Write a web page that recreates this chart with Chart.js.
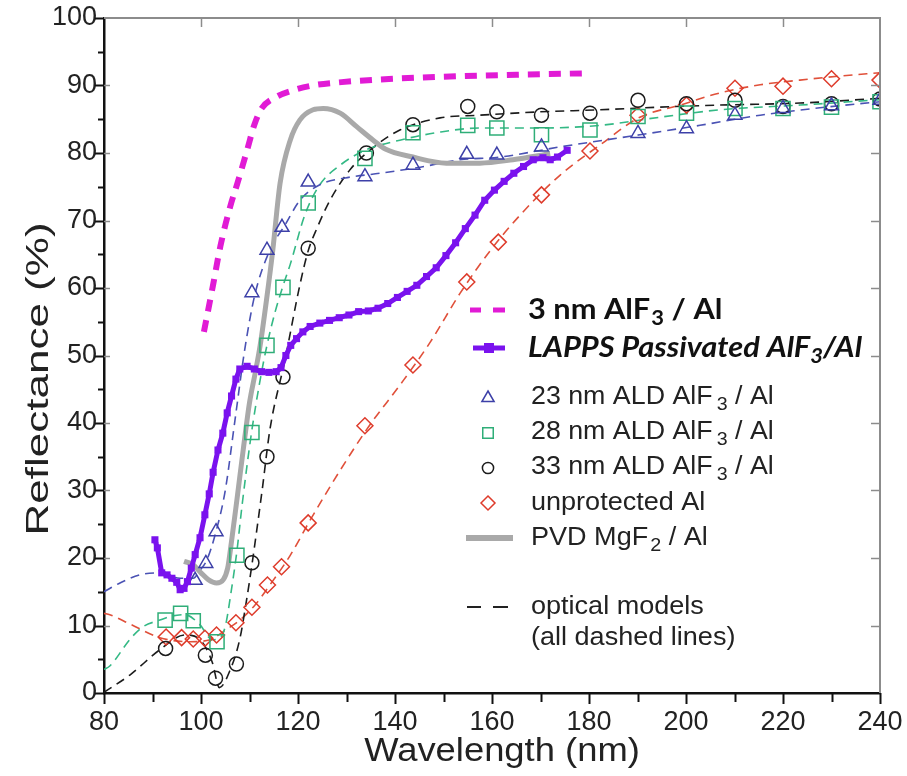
<!DOCTYPE html>
<html>
<head>
<meta charset="utf-8">
<script src="https://cdn.jsdelivr.net/npm/chart.js@4.4.1/dist/chart.umd.min.js"></script>
<style>
  html, body { margin: 0; padding: 0; background: #fff; }
  #wrap { position: relative; width: 907px; height: 776px; }
</style>
</head>
<body>
<div id="wrap"><canvas id="chart"></canvas></div>
<script>
/* ── Data ───────────────────────────────────────────────────────────────── */

// 3 nm AlF3 / Al (magenta, dashed)
const alf3X = [100.6, 102.5, 104, 106, 107.5, 109.5, 111, 112.5, 115.5, 119, 123, 129, 137, 150, 165, 179];
const alf3Y = [53.5, 60.5, 66.2, 72, 75.5, 80.4, 84.2, 86.6, 88.3, 89.3, 90.0, 90.5, 90.9, 91.3, 91.6, 91.8];

// LAPPS passivated AlF3 / Al (purple)
const lappsX = [90.5, 91.0, 91.9, 93.0, 94.0, 95.0, 95.7, 96.5, 97.2, 98.0, 98.8, 99.8, 100.8, 101.7, 102.5,
  103.5, 104.5, 105.4, 106.3, 107.2, 108.0, 109.5, 111.0, 112.5, 114.0, 115.5, 116.5, 117.5, 118.5, 119.7,
  121.0, 122.5, 124.5, 126.5, 128.5, 130.5, 132.5, 134.5, 136.5, 138.5, 140.5, 142.5, 144.5, 146.5, 148.5,
  150.5, 152.5, 154.5, 156.5, 158.5, 160.5, 162.5, 164.5, 166.5, 168.5, 170.5, 172.0, 173.5, 175.5];
const lappsY = [22.7, 21.5, 17.8, 17.5, 17.0, 16.4, 15.3, 15.5, 16.5, 18.5, 20.5, 23.0, 26.4, 29.5, 32.7,
  36.0, 38.5, 41.5, 44.0, 46.5, 48.0, 48.4, 48.0, 47.6, 47.5, 47.6, 48.2, 50.0, 51.5, 52.5,
  53.5, 54.3, 54.8, 55.2, 55.6, 56.0, 56.5, 56.6, 57.0, 57.7, 58.6, 59.5, 60.4, 61.7, 63.0,
  64.8, 66.7, 68.8, 70.8, 73.0, 74.5, 75.8, 77.0, 78.0, 79.0, 79.3, 79.0, 79.4, 80.4];

// PVD MgF2 / Al (gray)
const pvdX = [96.5, 98.4, 100.0, 101.5, 103.2, 104.6, 105.5, 106.3, 107.4, 108.7, 110.0, 111.2, 112.2,
  113.5, 114.8, 116.3, 118.4, 120.4, 123.1, 125.2, 128.7, 132.1, 135.5, 138.0, 143.7, 150.6, 157.5, 164.3, 172.0];
const pvdY = [19.5, 19.0, 17.8, 16.8, 16.3, 16.8, 18.5, 22.5, 28.6, 36.0, 43.0, 47.5, 51.5,
  58.2, 65.6, 75.5, 81.9, 84.9, 86.4, 86.6, 85.9, 83.9, 81.9, 80.6, 79.4, 78.5, 78.5, 79.0, 79.9];

// measured points
const ald23X = [98.8, 101, 103.1, 110.5, 113.6, 116.7, 122.1, 133.8, 143.7, 154.8, 161, 170.2, 190.1, 200.1, 210.1, 220, 230, 240];
const ald23Y = [16.7, 19.2, 23.9, 59.3, 65.6, 69.0, 75.7, 76.5, 78.2, 79.8, 79.7, 80.9, 82.9, 83.6, 85.6, 86.6, 87.0, 87.8];

const ald28X = [92.6, 95.8, 98.4, 103.3, 107.4, 110.5, 113.6, 116.9, 122.1, 133.8, 143.7, 155, 161, 170.2, 180.2, 190.1, 200.1, 210.1, 220, 230, 240];
const ald28Y = [10.8, 11.8, 10.7, 7.6, 20.4, 38.6, 51.5, 60.1, 72.6, 79.2, 83.0, 84.1, 83.7, 82.7, 83.4, 85.4, 85.9, 86.6, 86.6, 86.8, 87.6];

const ald33X = [92.7, 100.9, 103.0, 107.3, 110.5, 113.6, 116.9, 122.1, 134.1, 143.7, 155, 161, 170.2, 180.2, 190.1, 200.1, 210.1, 220, 230, 240];
const ald33Y = [6.6, 5.6, 2.2, 4.3, 19.3, 35.0, 46.8, 65.9, 80.0, 84.2, 86.9, 86.1, 85.6, 85.9, 87.8, 87.3, 87.8, 86.9, 87.3, 88.0];

const bareX = [92.8, 96, 98.4, 100.8, 103.2, 107.2, 110.5, 113.7, 116.6, 122.1, 133.8, 143.7, 154.8, 161.3, 170.2, 180.2, 190.1, 200.1, 210.1, 220, 230, 240];
const bareY = [8.3, 8.2, 8.0, 8.1, 8.6, 10.4, 12.7, 16.0, 18.7, 25.2, 39.6, 48.6, 60.9, 66.8, 73.8, 80.3, 85.6, 87.1, 89.6, 89.9, 91.0, 90.8];

// optical models (dashed)
const model23X = [80, 83.3, 87.4, 91.5, 95.7, 98.4, 99.8, 101.2, 102.9, 105, 107, 109, 111.1, 114.2, 117.3, 120.4, 124.5, 129.7, 136.9, 145.2, 153.4, 161.6, 174, 190.5, 202.9, 215.3, 227.6, 240];
const model23Y = [15, 16.3, 17.5, 17.8, 17.0, 17.0, 18.2, 19.7, 23.4, 30, 40.4, 50.8, 59, 65.6, 69.3, 73, 75.3, 76.3, 77, 77.9, 79, 79.4, 80.9, 82.7, 84.1, 85.6, 86.7, 87.6];

const model28X = [80, 81.2, 85.4, 88, 91.5, 94, 96.7, 99.8, 102.3, 104.3, 105.2, 106, 107.4, 108.5, 110.4, 112.2, 113.6, 115.3, 117, 118.4, 121.4, 124.5, 128.7, 133.8, 141, 149.3, 157.5, 169.9, 182.3, 194.6, 207, 223.5, 240];
const model28Y = [3.5, 4.0, 8.0, 9.8, 10.8, 11.4, 11.6, 10.1, 7.9, 8.5, 10.5, 14, 21, 28, 38.5, 46.4, 51.5, 56.5, 60.5, 63.5, 70.8, 75.3, 78.2, 80.4, 81.9, 83.1, 83.7, 83.7, 84.1, 85.3, 86.4, 87.1, 87.9];

const model33X = [80, 85.4, 91.5, 96.7, 99.8, 102.3, 103.8, 106.0, 108.0, 109.4, 110.5, 112.6, 114.2, 117.3, 120.4, 122.1, 124, 126.6, 130.7, 134.8, 141, 149.3, 157.5, 169.9, 182.3, 194.6, 207, 223.5, 240];
const model33Y = [0.1, 2.7, 6.4, 8.6, 7.9, 4.6, 0.8, 3.4, 8.0, 13.8, 19.0, 30, 39.0, 49.3, 60.5, 65.5, 69, 73, 77.5, 80.4, 83.4, 85.2, 85.6, 86.1, 86.4, 86.8, 87.1, 87.4, 88.1];

const modelBareX = [80, 81.2, 85.4, 91.5, 97.7, 101.9, 105, 108, 111.1, 114.2, 118.4, 122.5, 128.7, 134.8, 141, 147.2, 153.4, 159.6, 165.8, 174, 182.3, 190.5, 198.8, 207, 215.3, 223.5, 231.8, 240];
const modelBareY = [11.8, 11.6, 10.2, 8.2, 7.6, 7.9, 9.3, 10.8, 13, 16, 20.4, 25.6, 33, 39.7, 45.6, 51.9, 59.2, 65.5, 70.8, 76.7, 81.2, 85.3, 87.1, 88.9, 90.1, 90.8, 91.4, 91.9];

/* ── Colours ────────────────────────────────────────────────────────────── */
const COLORS = {
  magenta: '#e11bd5',
  purple : '#7a12ee',
  gray   : '#a9a9a9',
  blue   : '#3d40a8',
  green  : '#2fae78',
  black  : '#1c1c1c',
  red    : '#de3b2b',
};

const FONT = "'Liberation Sans', Arial, sans-serif";
const BOLD_FONT = "Lato, 'Open Sans', sans-serif";

const pts = (xs, ys) => xs.map((x, i) => ({ x, y: ys[i] }));

function modelLine(xs, ys, color) {
  return {
    data: pts(xs, ys), showLine: true, pointRadius: 0, borderColor: color,
    borderWidth: 1.6, borderDash: [9, 6], cubicInterpolationMode: 'monotone', order: 5,
  };
}

function markers(xs, ys, color, style, radius) {
  return {
    data: pts(xs, ys), showLine: false, pointStyle: style, pointRadius: radius,
    pointBorderColor: color, pointBackgroundColor: 'rgba(0,0,0,0)', pointBorderWidth: 1.5, order: 2,
  };
}

/* ── Frame, ticks, titles and legend drawn on top ───────────────────────── */
const framePlugin = {
  id: 'frame',
  afterDraw(chart) {
    const { ctx, chartArea: a } = chart;
    const xs = chart.scales.x, ys = chart.scales.y;
    ctx.save();

    // top / right box
    ctx.strokeStyle = '#8c8c8c';
    ctx.lineWidth = 2;
    ctx.beginPath();
    ctx.moveTo(a.left, a.top); ctx.lineTo(a.right, a.top); ctx.lineTo(a.right, a.bottom);
    ctx.stroke();

    // x ticks
    for (let v = 80; v <= 240; v += 10) {
      const px = Math.round(xs.getPixelForValue(v)) + 0.5;
      const major = v % 20 === 0;
      ctx.strokeStyle = '#111'; ctx.lineWidth = 2;
      ctx.beginPath(); ctx.moveTo(px, a.bottom); ctx.lineTo(px, a.bottom + (major ? 11 : 9)); ctx.stroke();
      if (major && v > 80 && v < 240) {
        ctx.strokeStyle = '#8c8c8c'; ctx.lineWidth = 1.5;
        ctx.beginPath(); ctx.moveTo(px, a.top); ctx.lineTo(px, a.top + 9); ctx.stroke();
      }
    }
    // y ticks
    for (let v = 0; v <= 100; v += 5) {
      const py = Math.round(ys.getPixelForValue(v)) + 0.5;
      const major = v % 10 === 0;
      ctx.strokeStyle = '#111'; ctx.lineWidth = 2;
      ctx.beginPath(); ctx.moveTo(a.left, py); ctx.lineTo(a.left - (major ? 9 : 6), py); ctx.stroke();
      if (major && v > 0 && v < 100) {
        ctx.strokeStyle = '#8c8c8c'; ctx.lineWidth = 1.5;
        ctx.beginPath(); ctx.moveTo(a.left, py); ctx.lineTo(a.left + 6, py); ctx.stroke();
        ctx.beginPath(); ctx.moveTo(a.right, py); ctx.lineTo(a.right - 9, py); ctx.stroke();
      }
    }

    // axis titles
    ctx.fillStyle = '#222';
    ctx.font = `34px ${FONT}`;
    ctx.textAlign = 'center';
    ctx.textBaseline = 'middle';
    ctx.save();
    ctx.translate(502, 752);
    ctx.scale(1.07, 1);
    ctx.fillText('Wavelength (nm)', 0, 0);
    ctx.restore();
    ctx.save();
    ctx.font = `31px ${FONT}`;
    ctx.translate(39, 379);
    ctx.rotate(-Math.PI / 2);
    ctx.scale(1.42, 1);
    ctx.fillText('Reflectance (%)', 0, 0);
    ctx.restore();

    drawLegend(ctx);
    ctx.restore();
  },
};

// text runs with optional subscripts, stretched horizontally by k
function drawRuns(ctx, x, y, runs, size, weight, k = 1) {
  ctx.save();
  ctx.translate(x, y);
  ctx.scale(k, 1);
  ctx.textAlign = 'left';
  ctx.textBaseline = 'middle';
  let cx = 0;
  for (const [text, sub, family, gap] of runs) {
    const fs = sub ? Math.round(size * 0.72) : size;
    ctx.font = `${weight} ${fs}px ${family}`;
    cx += gap || 0;
    ctx.fillText(text, cx, sub ? size * 0.3 : 0);
    cx += ctx.measureText(text).width;
  }
  ctx.restore();
}

function drawMarker(ctx, style, x, y, r, color) {
  ctx.strokeStyle = color;
  ctx.lineWidth = 1.5;
  ctx.beginPath();
  if (style === 'triangle') {
    ctx.moveTo(x, y - r); ctx.lineTo(x + r * 0.87, y + r * 0.5); ctx.lineTo(x - r * 0.87, y + r * 0.5); ctx.closePath();
  } else if (style === 'rect') {
    ctx.rect(x - r * 0.75, y - r * 0.75, r * 1.5, r * 1.5);
  } else if (style === 'circle') {
    ctx.arc(x, y, r * 0.8, 0, Math.PI * 2);
  } else {
    ctx.moveTo(x, y - r); ctx.lineTo(x + r, y); ctx.lineTo(x, y + r); ctx.lineTo(x - r, y); ctx.closePath();
  }
  ctx.stroke();
}

function drawLegend(ctx) {
  const sx = 488, tx = 531;
  ctx.fillStyle = '#111';

  // 3 nm AlF3 / Al
  ctx.strokeStyle = COLORS.magenta; ctx.lineWidth = 5;
  ctx.beginPath(); ctx.moveTo(470, 310); ctx.lineTo(481, 310); ctx.moveTo(493, 310); ctx.lineTo(505, 310); ctx.stroke();
  drawRuns(ctx, tx - 3, 310, [['3 nm AlF', false, BOLD_FONT], ['3', true, BOLD_FONT, 1], [' / Al', false, BOLD_FONT]], 28, 'bold', 1.1);

  // LAPPS
  ctx.strokeStyle = COLORS.purple; ctx.lineWidth = 5;
  ctx.beginPath(); ctx.moveTo(473, 348); ctx.lineTo(505, 348); ctx.stroke();
  ctx.fillStyle = COLORS.purple; ctx.fillRect(484, 343, 10, 10);
  ctx.fillStyle = '#111';
  drawRuns(ctx, tx - 3, 348, [['LAPPS Passivated AlF', false, BOLD_FONT], ['3', true, BOLD_FONT], ['/Al', false, BOLD_FONT]], 28, 'italic bold', 1.1);

  const rows = [
    ['triangle', COLORS.blue, 397, '23 nm ALD AlF'],
    ['rect', COLORS.green, 432, '28 nm ALD AlF'],
    ['circle', COLORS.black, 467, '33 nm ALD AlF'],
  ];
  for (const [style, color, y, label] of rows) {
    drawMarker(ctx, style, sx, y + 1, 7, color);
    ctx.fillStyle = '#222';
    drawRuns(ctx, tx, y, [[label, false, FONT], ['3', true, FONT, 4], [' / Al', false, FONT]], 26, 'normal', 1.03);
  }
  drawMarker(ctx, 'rectRot', sx, 503, 7, COLORS.red);
  ctx.fillStyle = '#222';
  drawRuns(ctx, tx, 503, [['unprotected Al', false, FONT]], 26, 'normal', 1.04);

  ctx.strokeStyle = COLORS.gray; ctx.lineWidth = 6;
  ctx.beginPath(); ctx.moveTo(466, 538); ctx.lineTo(513, 538); ctx.stroke();
  drawRuns(ctx, tx, 538, [['PVD MgF', false, FONT], ['2', true, FONT, 2], [' / Al', false, FONT]], 26, 'normal', 1.04);

  ctx.strokeStyle = '#222'; ctx.lineWidth = 2;
  ctx.beginPath(); ctx.moveTo(467, 607); ctx.lineTo(481, 607); ctx.moveTo(493, 607); ctx.lineTo(508, 607); ctx.stroke();
  drawRuns(ctx, tx, 607, [['optical models', false, FONT]], 26, 'normal', 1.04);
  drawRuns(ctx, tx, 638, [['(all dashed lines)', false, FONT]], 26, 'normal', 1.04);
}

/* ── Chart ──────────────────────────────────────────────────────────────── */
new Chart(document.getElementById('chart'), {
  type: 'scatter',
  data: {
    datasets: [
      {
        data: pts(alf3X, alf3Y), showLine: true, pointRadius: 0, borderColor: COLORS.magenta,
        borderWidth: 6, borderDash: [12, 9], cubicInterpolationMode: 'monotone', order: 0,
      },
      {
        data: pts(lappsX, lappsY), showLine: true, borderColor: COLORS.purple, borderWidth: 5,
        pointStyle: 'rect', pointRadius: 5, pointBackgroundColor: COLORS.purple,
        pointBorderColor: COLORS.purple, pointBorderWidth: 0, order: 1,
      },
      markers(ald23X, ald23Y, COLORS.blue, 'triangle', 8),
      markers(ald28X, ald28Y, COLORS.green, 'rect', 10),
      markers(ald33X, ald33Y, COLORS.black, 'circle', 7),
      markers(bareX, bareY, COLORS.red, 'rectRot', 8),
      {
        data: pts(pvdX, pvdY), showLine: true, pointRadius: 0, borderColor: COLORS.gray,
        borderWidth: 5, cubicInterpolationMode: 'monotone', order: 4,
      },
      modelLine(model23X, model23Y, '#4a52b4'),
      modelLine(model28X, model28Y, '#34b985'),
      modelLine(model33X, model33Y, COLORS.black),
      modelLine(modelBareX, modelBareY, '#e0503a'),
    ],
  },
  options: {
    responsive: true,
    maintainAspectRatio: false,
    animation: false,
    devicePixelRatio: 1,
    layout: { padding: { top: 18, right: 27, left: 0, bottom: 0 } },
    plugins: { legend: { display: false }, tooltip: { enabled: false } },
    scales: {
      x: {
        type: 'linear', min: 80, max: 240,
        ticks: { stepSize: 20, color: '#222', padding: 13, font: { family: FONT, size: 27 }, maxRotation: 0 },
        grid: { display: false, drawTicks: false },
        border: { display: true, color: '#111', width: 2.5 },
        afterFit: (s) => { s.height = 83; s.paddingLeft = 0; s.paddingRight = 0; },
      },
      y: {
        min: 0, max: 100,
        ticks: { stepSize: 10, color: '#222', padding: 7, font: { family: FONT, size: 27 } },
        grid: { display: false, drawTicks: false },
        border: { display: true, color: '#111', width: 2.5 },
        afterFit: (s) => { s.width = 104; s.paddingTop = 0; s.paddingBottom = 0; },
      },
    },
  },
  plugins: [framePlugin],
});
</script>
</body>
</html>
